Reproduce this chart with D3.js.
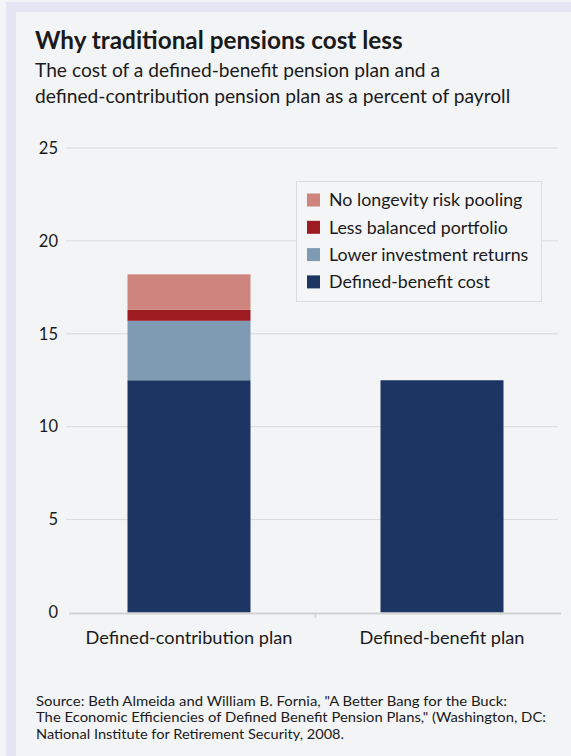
<!DOCTYPE html>
<html>
<head>
<meta charset="utf-8">
<script src="https://cdn.jsdelivr.net/npm/d3@7/dist/d3.min.js"></script>
<style>
  html, body { margin: 0; padding: 0; background: #f6f6fa; }
  svg { display: block; }
  text { font-family: Lato, "Open Sans", sans-serif; fill: #1a1a1a; }
</style>
</head>
<body>
<script>
const categories = ["Defined-contribution plan", "Defined-benefit plan"];
const seriesNames = ["Defined-benefit cost", "Lower investment returns", "Less balanced portfolio", "No longevity risk pooling"];
const definedBenefitCost = [12.5, 12.5];
const lowerInvestmentReturns = [3.2, 0];
const lessBalancedPortfolio = [0.6, 0];
const noLongevityRiskPooling = [1.9, 0];
const yTicks = [0, 5, 10, 15, 20, 25];
const colors = ["#1c3563", "#7f9ab3", "#9e1b22", "#cf857d"];
const sourceLines = [
  "Source:  Beth Almeida and William B. Fornia, \"A Better Bang for the Buck:",
  "The Economic Efficiencies of Defined Benefit Pension Plans,\" (Washington, DC:",
  "National Institute for Retirement Security, 2008."
];

const W = 571, H = 756;
const svg = d3.select("body").append("svg").attr("width", W).attr("height", H);

// frame
svg.append("rect").attr("x", 0).attr("y", 0).attr("width", W).attr("height", H).attr("fill", "#f4f4f8");
svg.append("rect").attr("x", 6).attr("y", 2).attr("width", W - 6).attr("height", H - 2).attr("fill", "#e5e4f3");
svg.append("rect").attr("x", 16).attr("y", 12).attr("width", W - 16).attr("height", H - 12).attr("fill", "#f3f4f6");

// titles
svg.append("text").attr("x", 35).attr("y", 49).attr("font-size", 24.3).attr("font-weight", 700)
  .text("Why traditional pensions cost less");
svg.append("text").attr("x", 35).attr("y", 77).attr("font-size", 19.2)
  .text("The cost of a defined-benefit pension plan and a");
svg.append("text").attr("x", 35).attr("y", 103).attr("font-size", 19.2)
  .text("defined-contribution pension plan as a percent of payroll");

// scales
const y = d3.scaleLinear().domain([0, 25]).range([612.5, 148]);
const x = d3.scaleBand().domain(categories).range([62.5, 568.5]).padding(0);
const barW = 123;

// y axis labels + gridlines
const yAxis = d3.axisLeft(y).tickValues(yTicks).tickSize(0).tickPadding(0);
const gy = svg.append("g").attr("transform", "translate(58,0)").call(yAxis);
gy.select(".domain").remove();
gy.selectAll("text").attr("font-size", 16.5).attr("fill", "#1a1a1a");
svg.append("g").selectAll("line").data(yTicks.filter(d => d > 0)).join("line")
  .attr("x1", 66).attr("x2", 558)
  .attr("y1", d => y(d)).attr("y2", d => y(d))
  .attr("stroke", "#d8d8d8").attr("stroke-width", 1);

// stacked bars
const rows = categories.map((c, i) => ({
  cat: c,
  "Defined-benefit cost": definedBenefitCost[i],
  "Lower investment returns": lowerInvestmentReturns[i],
  "Less balanced portfolio": lessBalancedPortfolio[i],
  "No longevity risk pooling": noLongevityRiskPooling[i]
}));
const stack = d3.stack().keys(seriesNames)(rows);
svg.append("g").selectAll("g").data(stack).join("g")
  .attr("fill", (d, i) => colors[i])
  .selectAll("rect").data(d => d.filter(p => p[1] - p[0] > 0)).join("rect")
  .attr("x", d => x(d.data.cat) + x.bandwidth() / 2 - barW / 2)
  .attr("width", barW)
  .attr("y", d => y(d[1]))
  .attr("height", d => y(d[0]) - y(d[1]));

// baseline + x axis
const xAxis = d3.axisBottom(x).tickSize(0).tickPadding(0);
const gx = svg.append("g").attr("transform", "translate(0,613.5)").call(xAxis);
gx.select(".domain").remove();
gx.selectAll("text").attr("font-size", 18.2).attr("fill", "#1a1a1a").attr("dy", 0).attr("y", 30);
svg.append("line").attr("x1", 69).attr("x2", 561).attr("y1", 613.5).attr("y2", 613.5)
  .attr("stroke", "#d2d2d2").attr("stroke-width", 2);
svg.append("line").attr("x1", 315.5).attr("x2", 315.5).attr("y1", 613).attr("y2", 618)
  .attr("stroke", "#d2d2d2").attr("stroke-width", 1.5);

// legend
const lg = svg.append("g");
lg.append("rect").attr("x", 296.5).attr("y", 181.5).attr("width", 245).attr("height", 120)
  .attr("fill", "#f4f5f7").attr("stroke", "#dcdcdc");
const legendOrder = seriesNames.slice().reverse();
const legendColors = colors.slice().reverse();
const li = lg.selectAll("g.item").data(legendOrder).join("g").attr("class", "item")
  .attr("transform", (d, i) => `translate(307, ${200 + i * 27.3})`);
li.append("rect").attr("x", 0).attr("y", -6.5).attr("width", 13).attr("height", 13)
  .attr("fill", (d, i) => legendColors[i]);
li.append("text").attr("x", 22).attr("y", 6.3).attr("font-size", 17.8).text(d => d);

// source
svg.append("g").selectAll("text").data(sourceLines).join("text")
  .attr("x", 36).attr("y", (d, i) => 705.5 + i * 16.5)
  .attr("font-size", 13.8)
  .attr("textLength", (d, i) => [471, 510, 308][i])
  .attr("lengthAdjust", "spacingAndGlyphs")
  .text(d => d);
</script>
</body>
</html>
